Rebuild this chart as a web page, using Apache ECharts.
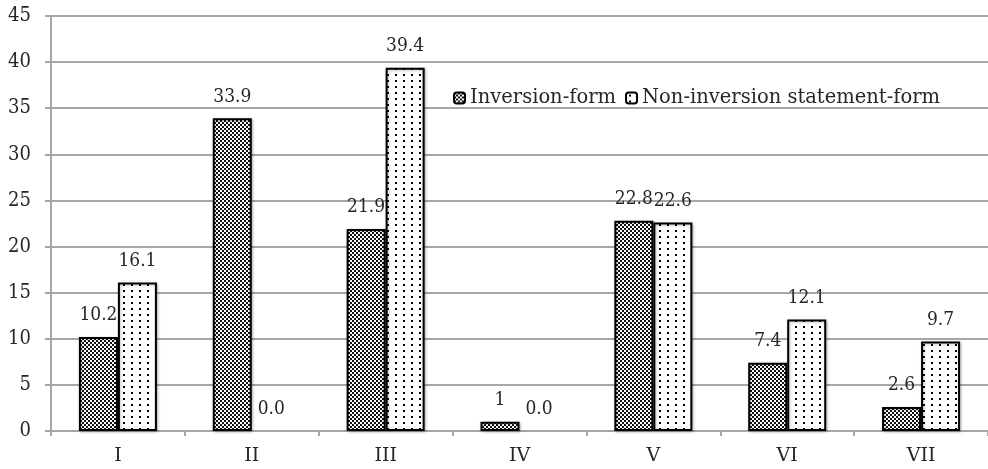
<!DOCTYPE html>
<html>
<head>
<meta charset="utf-8">
<script src="https://cdn.jsdelivr.net/npm/echarts@6/dist/echarts.min.js"></script>
<style>
  html, body { margin: 0; padding: 0; background: #fff; }
  #chart { width: 988px; height: 469px; }
</style>
</head>
<body>
<div id="chart"></div>
<script>
// Categories and values
const categories = ['I', 'II', 'III', 'IV', 'V', 'VI', 'VII'];
const inversionValues = [10.2, 33.9, 21.9, 1, 22.8, 7.4, 2.6];
const nonInversionValues = [16.1, 0.0, 39.4, 0.0, 22.6, 12.1, 9.7];
const inversionLabels = ['10.2', '33.9', '21.9', '1', '22.8', '7.4', '2.6'];
const nonInversionLabels = ['16.1', '0.0', '39.4', '0.0', '22.6', '12.1', '9.7'];
const seriesNames = ['Inversion-form', 'Non-inversion statement-form'];
const yTicks = { min: 0, max: 45, interval: 5 };

const NUM_FONT = '"DejaVu Serif Condensed", "DejaVu Serif", serif';
const TEXT_FONT = '"DejaVu Serif", serif';

// Fine black/white checkerboard fill
function checkerPattern() {
  const c = document.createElement('canvas');
  c.width = 4; c.height = 4;
  const g = c.getContext('2d');
  g.fillStyle = '#fff';
  g.fillRect(0, 0, 4, 4);
  g.fillStyle = '#111';
  g.fillRect(0, 0, 2, 2);
  g.fillRect(2, 2, 2, 2);
  return { image: c, repeat: 'repeat' };
}

// Sparse black dots on white
function dotPattern() {
  const c = document.createElement('canvas');
  c.width = 8; c.height = 6;
  const g = c.getContext('2d');
  g.fillStyle = '#fff';
  g.fillRect(0, 0, 8, 6);
  g.fillStyle = '#000';
  g.fillRect(3, 2, 2, 2);
  return { image: c, repeat: 'repeat' };
}

const chart = echarts.init(document.getElementById('chart'), null, { renderer: 'canvas' });

// Zero-height bars get no outline so only their label shows
function barData(values) {
  return values.map(v => (v === 0
    ? { value: v, itemStyle: { borderWidth: 0, shadowBlur: 0, shadowOffsetX: 0, shadowOffsetY: 0 } }
    : v));
}

function makeSeries(name, values, labels, fill) {
  return {
    name: name,
    type: 'bar',
    data: barData(values),
    barWidth: 39,
    barGap: '0%',
    itemStyle: {
      color: fill,
      borderColor: '#000',
      borderWidth: 2,
      shadowColor: 'rgba(0,0,0,0.25)',
      shadowBlur: 3,
      shadowOffsetX: 1,
      shadowOffsetY: 1
    },
    emphasis: { disabled: true },
    label: {
      show: true,
      position: 'top',
      distance: 12,
      color: '#262626',
      fontFamily: NUM_FONT,
      fontSize: 19,
      formatter: p => labels[p.dataIndex]
    }
  };
}

chart.setOption({
  animation: false,
  backgroundColor: '#fff',
  grid: { left: 51, right: -3, top: 16, bottom: 38, containLabel: false },
  legend: {
    left: 448,
    top: 83,
    itemWidth: 11,
    itemHeight: 11,
    itemGap: 9,
    textStyle: { fontFamily: TEXT_FONT, fontSize: 19.5, color: '#262626' },
    data: seriesNames
  },
  xAxis: {
    type: 'category',
    data: categories,
    axisLine: { lineStyle: { color: '#a6a6a6', width: 2 } },
    axisTick: { show: true, length: 5, lineStyle: { color: '#a6a6a6', width: 2 } },
    axisLabel: { fontFamily: TEXT_FONT, fontSize: 19, color: '#262626', margin: 16 }
  },
  yAxis: {
    type: 'value',
    min: yTicks.min,
    max: yTicks.max,
    interval: yTicks.interval,
    axisLine: { show: true, lineStyle: { color: '#a6a6a6', width: 2 } },
    axisTick: { show: true, length: 6, lineStyle: { color: '#a6a6a6', width: 2 } },
    splitLine: { lineStyle: { color: '#a6a6a6', width: 2 } },
    axisLabel: { fontFamily: NUM_FONT, fontSize: 20, color: '#262626', margin: 20 }
  },
  series: [
    makeSeries(seriesNames[0], inversionValues, inversionLabels, checkerPattern()),
    makeSeries(seriesNames[1], nonInversionValues, nonInversionLabels, dotPattern())
  ]
});
</script>
</body>
</html>
